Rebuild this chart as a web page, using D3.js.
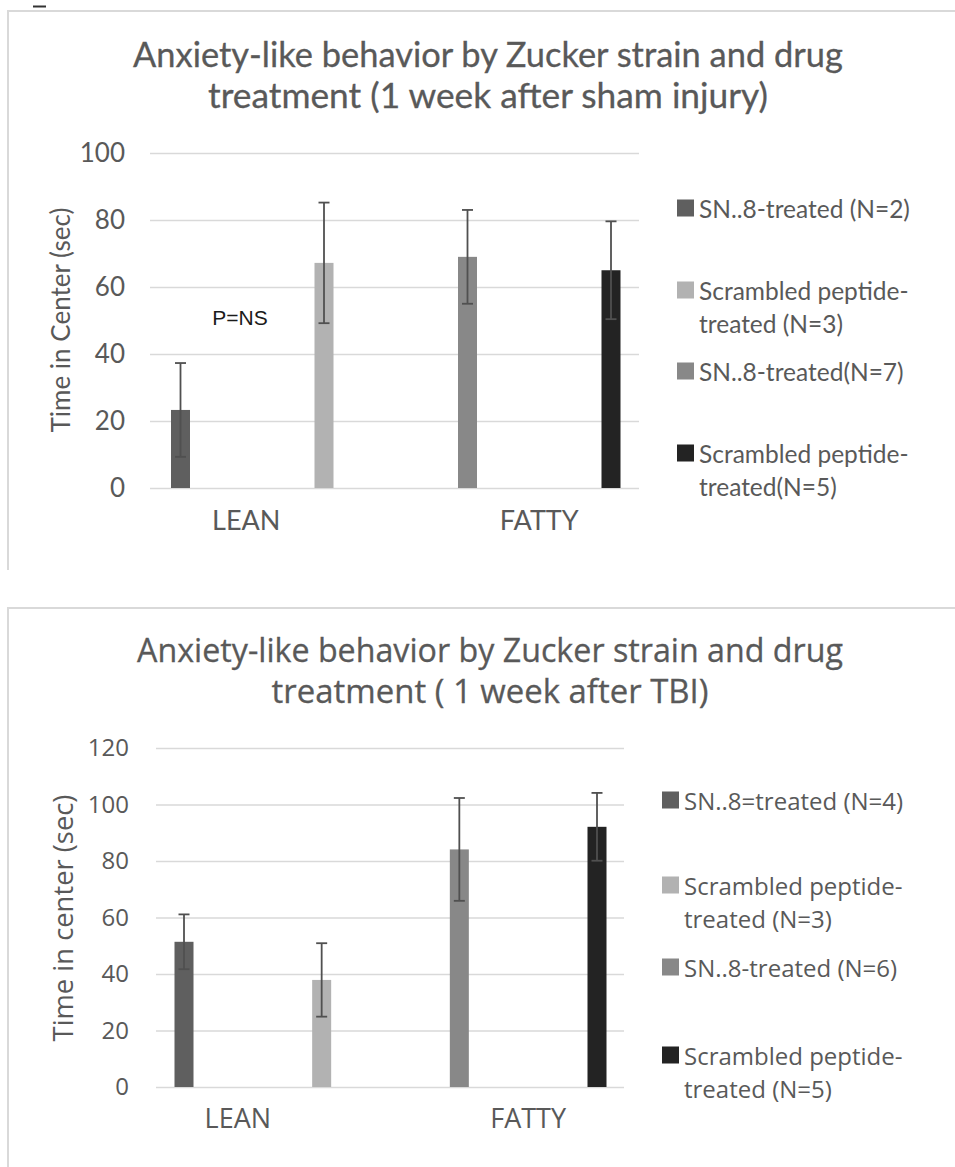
<!DOCTYPE html>
<html>
<head>
<meta charset="utf-8">
<script src="https://cdn.jsdelivr.net/npm/d3@7"></script>
<style>
  body { margin: 0; background: #fff; }
  svg { display: block; }
</style>
</head>
<body>
<svg id="chart" width="955" height="1167"></svg>
<script>
// chart data
const groups = ["LEAN", "FATTY"];
const seriesGroup = ["LEAN", "LEAN", "FATTY", "FATTY"];
const seriesColors = ["#5f5f5f", "#b2b2b2", "#888888", "#232323"];

const shamTitle = ["Anxiety-like behavior by Zucker strain and drug", "treatment (1 week after sham injury)"];
const shamLegend = [["SN..8-treated (N=2)"], ["Scrambled peptide-", "treated (N=3)"], ["SN..8-treated(N=7)"], ["Scrambled peptide-", "treated(N=5)"]];
const shamMeans = [23.3, 67.2, 69.0, 65.0];
const shamErrors = [14.0, 18.0, 14.0, 14.6];
const shamTicks = [0, 20, 40, 60, 80, 100];

const tbiTitle = ["Anxiety-like behavior by Zucker strain and drug", "treatment ( 1 week after TBI)"];
const tbiLegend = [["SN..8=treated (N=4)"], ["Scrambled peptide-", "treated (N=3)"], ["SN..8-treated (N=6)"], ["Scrambled peptide-", "treated (N=5)"]];
const tbiMeans = [51.4, 37.9, 84.1, 92.1];
const tbiErrors = [9.7, 13.0, 18.2, 12.0];
const tbiTicks = [0, 20, 40, 60, 80, 100, 120];

const textColor = "#595959";
const gridColor = "#d9d9d9";

const svg = d3.select("#chart");

// scale text so a line fills the width it has in the picture
function fitText(sel, width) {
  const len = sel.node().getComputedTextLength();
  const fs = parseFloat(sel.attr("font-size"));
  sel.attr("font-size", fs * width / len);
}

function drawPanel(cfg) {
  const g = svg.append("g").attr("font-family", cfg.font);

  // panel frame (top + left edges only)
  g.append("path")
    .attr("d", `M8,${cfg.frameBottom} L8,${cfg.frameTop} L955,${cfg.frameTop}`)
    .attr("fill", "none")
    .attr("stroke", gridColor)
    .attr("stroke-width", 2);

  // title
  cfg.title.forEach((line, i) => {
    const t = g.append("text")
      .attr("x", cfg.titleX)
      .attr("y", cfg.titleY[i])
      .attr("text-anchor", "middle")
      .attr("font-size", 30)
      .attr("fill", textColor)
      .attr("stroke", textColor)
      .attr("stroke-width", 0.3)
      .text(line);
    fitText(t, cfg.titleW[i]);
  });

  const y = d3.scaleLinear().domain(cfg.yDomain).range(cfg.yRange);
  const x = d3.scalePoint().domain(d3.range(cfg.means.length)).range(cfg.barRange);

  // y axis with gridlines
  const yAxis = g.append("g")
    .attr("transform", `translate(${cfg.gridX[0]},0)`)
    .call(d3.axisLeft(y).tickValues(cfg.ticks).tickFormat(d3.format("d"))
      .tickSizeInner(-(cfg.gridX[1] - cfg.gridX[0])).tickSizeOuter(0).tickPadding(cfg.tickPad));
  yAxis.select(".domain").remove();
  yAxis.selectAll(".tick line").attr("stroke", gridColor).attr("stroke-width", 1.5);
  yAxis.selectAll(".tick text")
    .attr("fill", textColor)
    .attr("font-size", cfg.tickSize)
    .attr("font-family", cfg.font);

  // y axis title
  const yt = g.append("text")
    .attr("transform", `translate(${cfg.yTitleX},${cfg.yTitleY}) rotate(-90)`)
    .attr("text-anchor", "middle")
    .attr("dominant-baseline", "central")
    .attr("font-size", 22)
    .attr("fill", textColor)
    .text(cfg.yTitle);
  fitText(yt, cfg.yTitleW);

  // bars
  const bw = 19;
  g.selectAll(".bar")
    .data(cfg.means)
    .join("rect")
    .attr("class", "bar")
    .attr("x", (d, i) => x(i) - bw / 2)
    .attr("width", bw)
    .attr("y", d => y(d))
    .attr("height", d => y(0) - y(d))
    .attr("fill", (d, i) => seriesColors[i]);

  // error bars
  const eb = g.selectAll(".err")
    .data(cfg.means.map((m, i) => ({ i, lo: m - cfg.errors[i], hi: m + cfg.errors[i] })))
    .join("g")
    .attr("class", "err")
    .attr("stroke", "#505050")
    .attr("stroke-width", 1.8);
  eb.append("line")
    .attr("x1", d => x(d.i)).attr("x2", d => x(d.i))
    .attr("y1", d => y(d.lo)).attr("y2", d => y(d.hi));
  eb.append("line")
    .attr("x1", d => x(d.i) - 5.5).attr("x2", d => x(d.i) + 5.5)
    .attr("y1", d => y(d.hi)).attr("y2", d => y(d.hi));
  eb.append("line")
    .attr("x1", d => x(d.i) - 5.5).attr("x2", d => x(d.i) + 5.5)
    .attr("y1", d => y(d.lo)).attr("y2", d => y(d.lo));

  // category labels, centred under their bars
  groups.forEach((grp, k) => {
    const idx = d3.range(seriesGroup.length).filter(i => seriesGroup[i] === grp);
    g.append("text")
      .attr("x", d3.mean(idx, i => x(i)) + cfg.catShift[k])
      .attr("y", cfg.catY)
      .attr("text-anchor", "middle")
      .attr("font-size", cfg.catSize)
      .attr("fill", textColor)
      .text(grp);
  });

  // legend
  const lg = g.append("g");
  cfg.legend.forEach((lines, i) => {
    lg.append("rect")
      .attr("x", cfg.legendX)
      .attr("y", cfg.legendY[i] - 8.5)
      .attr("width", 17)
      .attr("height", 17)
      .attr("fill", seriesColors[i]);
    lines.forEach((line, j) => {
      lg.append("text")
        .attr("x", cfg.legendX + 22)
        .attr("y", cfg.legendY[i] + j * cfg.legendLine)
        .attr("dominant-baseline", "central")
        .attr("font-size", cfg.legendSize)
        .attr("fill", textColor)
        .text(line);
    });
  });

  return { g, x, y };
}

const shamPanel = drawPanel({
  font: "Lato, 'Liberation Sans', sans-serif",
  frameTop: 11, frameBottom: 570,
  title: shamTitle, titleX: 488, titleY: [67, 108], titleW: [710, 560],
  yDomain: [0, 100], yRange: [488, 153], ticks: shamTicks,
  gridX: [150, 639], tickPad: 25, tickSize: 26,
  yTitle: "Time in Center (sec)", yTitleX: 60, yTitleY: 320, yTitleW: 225,
  means: shamMeans, errors: shamErrors, barRange: [180.5, 611],
  catY: 530, catSize: 27, catShift: [-6, 0],
  legend: shamLegend, legendX: 677, legendY: [208, 290, 371, 453], legendLine: 33.5, legendSize: 24.5
});

// P=NS annotation
shamPanel.g.append("text")
  .attr("x", 240)
  .attr("y", shamPanel.y(51))
  .attr("text-anchor", "middle")
  .attr("dominant-baseline", "central")
  .attr("font-family", "'Liberation Sans', Arial, sans-serif")
  .attr("font-size", 21)
  .attr("fill", "#1a1a1a")
  .text("P=NS");

drawPanel({
  font: "'Open Sans', 'Liberation Sans', sans-serif",
  frameTop: 608, frameBottom: 1167,
  title: tbiTitle, titleX: 490, titleY: [662, 703], titleW: [706, 437],
  yDomain: [0, 120], yRange: [1087, 748], ticks: tbiTicks,
  gridX: [156, 624], tickPad: 27, tickSize: 24,
  yTitle: "Time in center (sec)", yTitleX: 62, yTitleY: 918, yTitleW: 247,
  means: tbiMeans, errors: tbiErrors, barRange: [184, 597],
  catY: 1128, catSize: 27, catShift: [-15, 0],
  legend: tbiLegend, legendX: 662, legendY: [800, 885, 967, 1055], legendLine: 33.5, legendSize: 24
});

// stray mark at the very top-left of the picture
svg.append("line")
  .attr("x1", 33).attr("x2", 46)
  .attr("y1", 6.5).attr("y2", 6.5)
  .attr("stroke", "#333")
  .attr("stroke-width", 2);
</script>
</body>
</html>
